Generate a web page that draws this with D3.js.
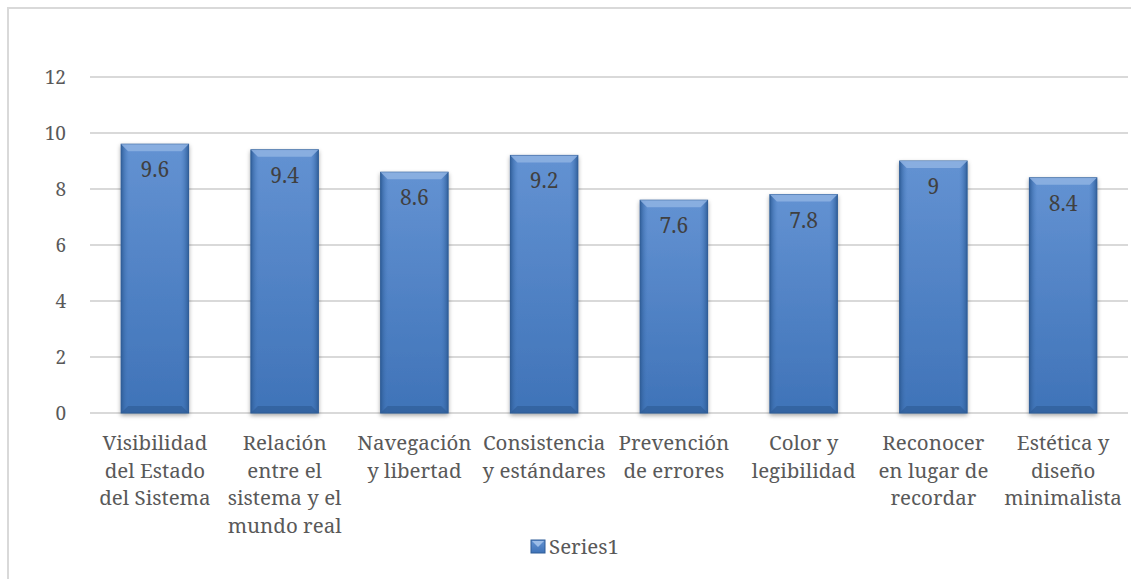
<!DOCTYPE html>
<html>
<head>
<meta charset="utf-8">
<script src="https://cdn.jsdelivr.net/npm/d3@7"></script>
<style>
  body { margin: 0; background: #fff; }
</style>
</head>
<body>
<div id="chart"></div>
<script>
var svgWidth = 1131;
var svgHeight = 579;
var fontFamily = "Noto Serif";

// data
var categories = [
  ["Visibilidad", "del Estado", "del Sistema"],
  ["Relación", "entre el", "sistema y el", "mundo real"],
  ["Navegación", "y libertad"],
  ["Consistencia", "y estándares"],
  ["Prevención", "de errores"],
  ["Color y", "legibilidad"],
  ["Reconocer", "en lugar de", "recordar"],
  ["Estética y", "diseño", "minimalista"]
];
var values = [9.6, 9.4, 8.6, 9.2, 7.6, 7.8, 9, 8.4];
var yTicks = [0, 2, 4, 6, 8, 10, 12];
var seriesName = "Series1";

var margin = { top: 77, right: 3, bottom: 166, left: 90 };
var width = svgWidth - margin.left - margin.right;
var height = svgHeight - margin.top - margin.bottom;

var svg = d3.select("#chart")
  .append("svg")
  .attr("width", svgWidth)
  .attr("height", svgHeight)
  .attr("font-family", fontFamily);

// gradients for the bevelled bars
var defs = svg.append("defs");
var g1 = defs.append("linearGradient").attr("id", "barFill")
  .attr("x1", 0).attr("y1", 0).attr("x2", 0).attr("y2", 1);
g1.append("stop").attr("offset", "0%").attr("stop-color", "#6392d2");
g1.append("stop").attr("offset", "100%").attr("stop-color", "#3f73b8");
var g2 = defs.append("linearGradient").attr("id", "barSide")
  .attr("x1", 0).attr("y1", 0).attr("x2", 1).attr("y2", 0);
g2.append("stop").attr("offset", "0%").attr("stop-color", "#2c5a94").attr("stop-opacity", 0.9);
g2.append("stop").attr("offset", "12%").attr("stop-color", "#4a7fc4").attr("stop-opacity", 0);
g2.append("stop").attr("offset", "88%").attr("stop-color", "#4a7fc4").attr("stop-opacity", 0);
g2.append("stop").attr("offset", "100%").attr("stop-color", "#2c5a94").attr("stop-opacity", 0.9);
var shadow = defs.append("filter").attr("id", "shadow")
  .attr("x", "-20%").attr("y", "-10%").attr("width", "140%").attr("height", "120%");
shadow.append("feDropShadow").attr("dx", 0).attr("dy", 2).attr("stdDeviation", 2)
  .attr("flood-color", "#000").attr("flood-opacity", 0.35);

// outer frame
svg.append("rect")
  .attr("x", 8).attr("y", 8)
  .attr("width", svgWidth).attr("height", svgHeight)
  .attr("fill", "none")
  .attr("stroke", "#d9d9d9")
  .attr("stroke-width", 2);

var chartGroup = svg.append("g")
  .attr("transform", `translate(${margin.left}, ${margin.top})`);

var xScale = d3.scaleBand()
  .domain(d3.range(values.length))
  .range([0, width])
  .paddingInner(0.48)
  .paddingOuter(0.24);

var yScale = d3.scaleLinear()
  .domain([0, 12])
  .range([height, 0]);

// gridlines
chartGroup.append("g")
  .selectAll("line")
  .data(yTicks)
  .enter()
  .append("line")
  .attr("x1", 0)
  .attr("x2", width)
  .attr("y1", d => yScale(d))
  .attr("y2", d => yScale(d))
  .attr("stroke", "#d9d9d9")
  .attr("stroke-width", 2);

// y axis labels
var leftAxis = d3.axisLeft(yScale).tickValues(yTicks).tickSize(0).tickPadding(24);
var yAxis = chartGroup.append("g").call(leftAxis)
  .attr("font-family", fontFamily)
  .attr("font-size", 19);
yAxis.select(".domain").remove();
yAxis.selectAll("text")
  .attr("fill", "#595959");

// bars
var bars = chartGroup.selectAll(".bar")
  .data(values)
  .enter()
  .append("g")
  .attr("class", "bar")
  .attr("transform", (d, i) => `translate(${xScale(i)}, ${yScale(d)})`);

var bw = xScale.bandwidth();

bars.append("rect")
  .attr("width", bw)
  .attr("height", d => height - yScale(d))
  .attr("fill", "url(#barFill)")
  .attr("stroke", "#2f5d97")
  .attr("stroke-width", 1)
  .attr("filter", "url(#shadow)");

bars.append("rect")
  .attr("width", bw)
  .attr("height", d => height - yScale(d))
  .attr("fill", "url(#barSide)");

// top bevel
bars.append("path")
  .attr("d", `M0,0 L${bw},0 L${bw - 7},7 L7,7 Z`)
  .attr("fill", "#8fb3e3")
  .attr("opacity", 0.85);

// bottom bevel
bars.append("path")
  .attr("d", d => {
    var h = height - yScale(d);
    return `M0,${h} L${bw},${h} L${bw - 7},${h - 7} L7,${h - 7} Z`;
  })
  .attr("fill", "#2d5a92")
  .attr("opacity", 0.6);

// value labels
bars.append("text")
  .attr("x", bw / 2)
  .attr("y", 33)
  .attr("text-anchor", "middle")
  .attr("font-size", 21)
  .attr("fill", "#404040")
  .text(d => d);

// category labels
var catGroup = chartGroup.append("g")
  .attr("transform", `translate(0, ${height})`);

catGroup.selectAll("text")
  .data(categories)
  .enter()
  .append("text")
  .attr("text-anchor", "middle")
  .attr("font-size", 20.5)
  .attr("fill", "#595959")
  .attr("transform", (d, i) => `translate(${xScale(i) + bw / 2}, 37)`)
  .each(function(lines) {
    var t = d3.select(this);
    lines.forEach(function(line, k) {
      t.append("tspan")
        .attr("x", 0)
        .attr("y", k * 27.5)
        .text(line);
    });
  });

// legend
var legend = svg.append("g")
  .attr("transform", "translate(531, 540)");

legend.append("rect")
  .attr("width", 14).attr("height", 13)
  .attr("fill", "url(#barFill)")
  .attr("stroke", "#2f5d97");
legend.append("path")
  .attr("d", "M1,1 L13,1 L7,7 Z")
  .attr("fill", "#9cbde8");

legend.append("text")
  .attr("x", 18)
  .attr("y", 14)
  .attr("font-size", 20.5)
  .attr("fill", "#595959")
  .text(seriesName);
</script>
</body>
</html>
